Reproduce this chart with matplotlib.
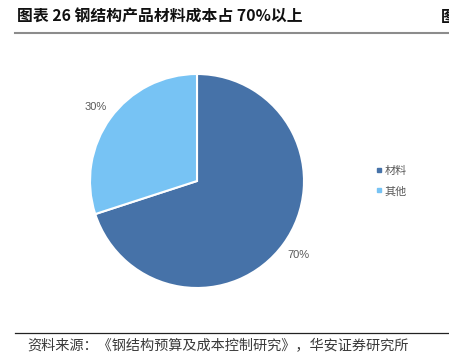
import matplotlib
matplotlib.use("Agg")
import matplotlib.pyplot as plt
from matplotlib.lines import Line2D

plt.rcParams["font.family"] = ["Noto Sans CJK SC", "DejaVu Sans"]

# data
categories = ["材料", "其他"]
shares = [70, 30]
colors = ["#4672A8", "#77C3F4"]
title = "图表 26 钢结构产品材料成本占 70%以上"
source = "资料来源：《钢结构预算及成本控制研究》，华安证券研究所"

W, H = 449, 362
fig = plt.figure(figsize=(W / 100, H / 100), dpi=100)

# pie axes: centre (197, 181) px, radius 107 px
r = 107
cx, cy = 197, 181
ax = fig.add_axes([(cx - r) / W, 1 - (cy + r) / H, 2 * r / W, 2 * r / H])
wedges, texts, autotexts = ax.pie(
    shares,
    colors=colors,
    startangle=90,
    counterclock=False,
    autopct="%d%%",
    pctdistance=1.17,
    wedgeprops=dict(edgecolor="white", linewidth=1.5),
    textprops=dict(color="#595959", fontsize=8, family="Liberation Sans"),
)
ax.set_xlim(-1, 1)
ax.set_ylim(-1, 1)
ax.set_aspect("equal")
ax.axis("off")
for t in autotexts:
    t.set_clip_on(False)

# legend
handles = [Line2D([], [], marker="s", linestyle="none", markersize=2.5,
                  markerfacecolor=c, markeredgecolor=c) for c in colors]
fig.legend(handles, categories, loc="center left",
           bbox_to_anchor=(366 / W, 1 - 181 / H), frameon=False,
           fontsize=8, labelcolor="#595959", handlelength=0.5,
           handletextpad=0.3, labelspacing=0.95)

# title and rules
fig.text(17 / W, 1 - 17 / H, title, fontsize=11.4, fontweight="bold",
         color="#111111", va="center", ha="left")
fig.text(441 / W, 1 - 17 / H, "图", fontsize=11.4, fontweight="bold",
         color="#111111", va="center", ha="left")
fig.add_artist(Line2D([15 / W, 1], [1 - 33 / H, 1 - 33 / H],
                      color="#8C8C8C", linewidth=1.5))
fig.add_artist(Line2D([15 / W, 1], [1 - 333 / H, 1 - 333 / H],
                      color="#222222", linewidth=0.9))
fig.text(27 / W, 1 - 346 / H, source, fontsize=10.2, color="#3A3A3A",
         va="center", ha="left")

fig.savefig("out.png", dpi=100)
